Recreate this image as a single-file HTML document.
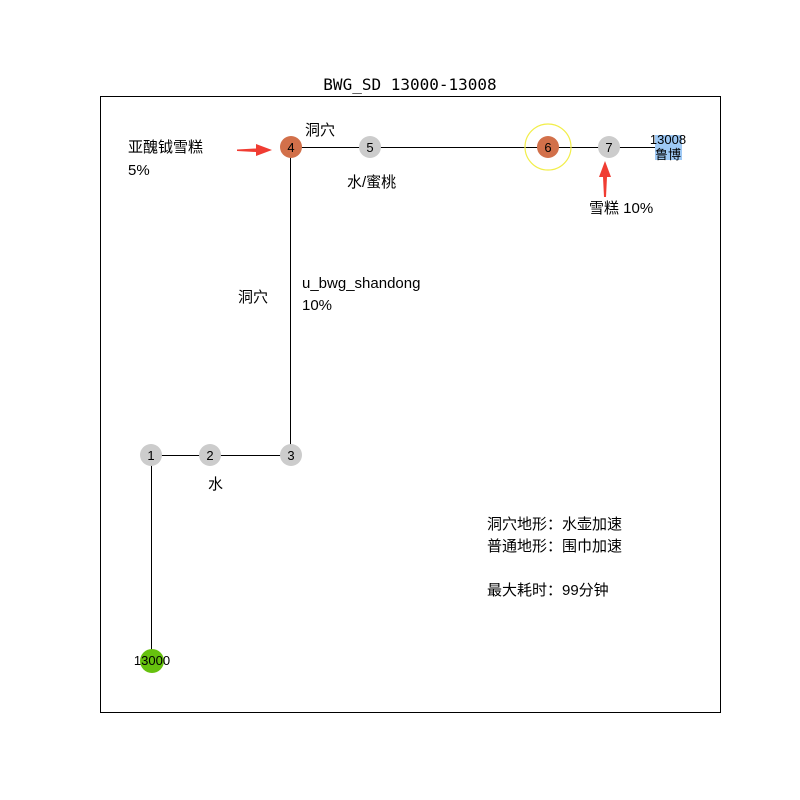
<!DOCTYPE html>
<html><head><meta charset="utf-8"><style>html,body{margin:0;padding:0;background:#fff}svg{display:block}</style></head>
<body>
<svg width="800" height="800" viewBox="0 0 800 800" xmlns="http://www.w3.org/2000/svg" font-family="'Liberation Sans','Noto Sans CJK SC',sans-serif">
<rect x="0" y="0" width="800" height="800" fill="#fff"/>
<text x="410" y="90" text-anchor="middle" font-family="'DejaVu Sans Mono','Liberation Mono',monospace" font-size="16" fill="#000">BWG_SD 13000-13008</text>
<rect x="100.5" y="96.5" width="620" height="616" fill="none" stroke="#000" stroke-width="1"/>
<g stroke="#000" stroke-width="1" fill="none">
<line x1="151.5" y1="455.5" x2="151.5" y2="661"/>
<line x1="151" y1="455.5" x2="291" y2="455.5"/>
<line x1="290.5" y1="455.5" x2="290.5" y2="147.5"/>
<line x1="291" y1="147.5" x2="668" y2="147.5"/>
</g>
<circle cx="548" cy="147" r="23" fill="none" stroke="#f2ee4a" stroke-width="1.2"/>
<g font-size="13" text-anchor="middle" fill="#000">
<circle cx="151" cy="455" r="11" fill="#cccccc"/><text x="151" y="460">1</text>
<circle cx="210" cy="455" r="11" fill="#cccccc"/><text x="210" y="460">2</text>
<circle cx="291" cy="455" r="11" fill="#cccccc"/><text x="291" y="460">3</text>
<circle cx="291" cy="147" r="11" fill="#d2704a"/><text x="291" y="152">4</text>
<circle cx="370" cy="147" r="11" fill="#cccccc"/><text x="370" y="152">5</text>
<circle cx="548" cy="147" r="11" fill="#d2704a"/><text x="548" y="152">6</text>
<circle cx="609" cy="147" r="11" fill="#cccccc"/><text x="609" y="152">7</text>
<circle cx="152" cy="661" r="12" fill="#66c10e"/><text x="152" y="665">13000</text>
<rect x="655" y="135" width="27" height="25" fill="#9ec9f5"/>
<text x="668" y="144">13008</text><text x="668" y="159">鲁博</text>
</g>
<g font-size="15" fill="#000">
<text x="128" y="152">亚醜钺雪糕</text>
<text x="128" y="175">5%</text>
<text x="305" y="135">洞穴</text>
<text x="347" y="187">水/蜜桃</text>
<text x="589" y="213">雪糕 10%</text>
<text x="302" y="288">u_bwg_shandong</text>
<text x="302" y="310">10%</text>
<text x="238" y="302">洞穴</text>
<text x="208" y="489">水</text>
<text x="487" y="529">洞穴地形：水壶加速</text>
<text x="487" y="551">普通地形：围巾加速</text>
<text x="487" y="595">最大耗时：99分钟</text>
</g>
<g fill="#f03c32" stroke="none">
<polygon points="237,149.5 256,148.5 256,144 272,150 256,156 256,152 237,151"/>
<polygon points="604,197 606,197 607,177 611,177 605,161 599,177 603,177"/>
</g>
</svg>
</body></html>
